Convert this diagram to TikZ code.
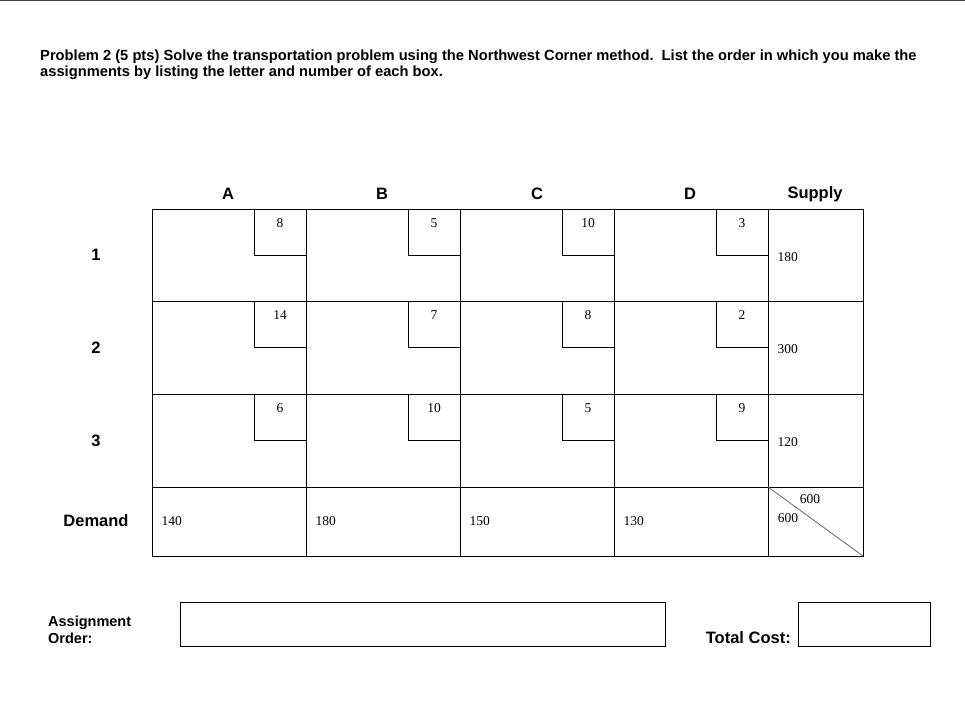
\documentclass[tikz,border=0pt]{standalone}
\usepackage{fontspec}
\setmainfont{Liberation Serif}
\newfontfamily\arial{Liberation Sans}
\begin{document}
\begin{tikzpicture}[x=1pt,y=-1pt,
  lbl/.style={font=\arial\bfseries\fontsize{16.5}{19}\selectfont},
  num/.style={font=\fontsize{13.5}{15}\selectfont},
  cell/.style={draw=black,line width=0.6pt},
  box/.style={draw=black,line width=0.6pt}]
\useasboundingbox (0,0) rectangle (965,715);
\draw[line width=1.5pt,black!75] (0,0.7) -- (965,0.7);
\node[anchor=base west,inner sep=0pt,font=\arial\bfseries\fontsize{14.7}{17}\selectfont] (t1) at (40,60) {Problem 2 (5 pts) Solve the transportation problem using the Northwest Corner method.\ \ List the order in which you make the};
\node[anchor=base west,inner sep=0pt,font=\arial\bfseries\fontsize{14.7}{17}\selectfont] (t2) at (40,76) {assignments by listing the letter and number of each box.};
% headers
\foreach \t/\x in {A/228,B/382,C/537,D/690,Supply/815}
  \node[lbl] (h\t) at (\x,194) {\t};
\foreach \t/\y in {1/255,2/348,3/441}
  \node[lbl] (r\t) at (96,\y) {\t};
\node[lbl] (rd) at (96,521) {Demand};
% grid
\foreach \ya/\yb in {209/301,301/394,394/487,487/556}
  \foreach \xa/\xb in {152/306,306/460,460/614,614/768,768/863}
    \draw[cell] (\xa,\ya) rectangle (\xb,\yb);
% cost boxes
\def\costs{{{8,5,10,3},{14,7,8,2},{6,10,5,9}}}
\foreach \r/\ya in {0/209,1/301,2/394}
  \foreach \c/\xr in {0/306,1/460,2/614,3/768}{
    \draw[box] (\xr-52,\ya) |- (\xr,\ya+46);
    \pgfmathsetmacro\v{int(\costs[\r][\c])}
    \node[num] (c\r\c) at (\xr-26,\ya+14) {\v};
  }
\foreach \v/\y [count=\i] in {180/257,300/349,120/442}
  \node[num,anchor=west] (s\i) at (774,\y) {\v};
\foreach \v/\x [count=\i] in {140/158,180/312,150/466,130/620}
  \node[num,anchor=west] (d\i) at (\x,521) {\v};
\coordinate (dg1) at (768,487);
\coordinate (dg2) at (863,556);
\draw[black!60,line width=0.8pt] (dg1) -- (dg2);
\node[num] (tot1) at (810,499) {600};
\node[num] (tot2) at (788,518) {600};
% bottom
\node[anchor=west,align=left,inner sep=0pt,font=\arial\bfseries\fontsize{14.5}{17}\selectfont] (ao) at (48,630) {Assignment\\Order:};
\draw[box] (180,602) rectangle (665,646);
\node[lbl,anchor=east,inner sep=0pt] (tc) at (791,638) {Total Cost:};
\draw[box] (798,602) rectangle (930,646);
\end{tikzpicture}
\end{document}
